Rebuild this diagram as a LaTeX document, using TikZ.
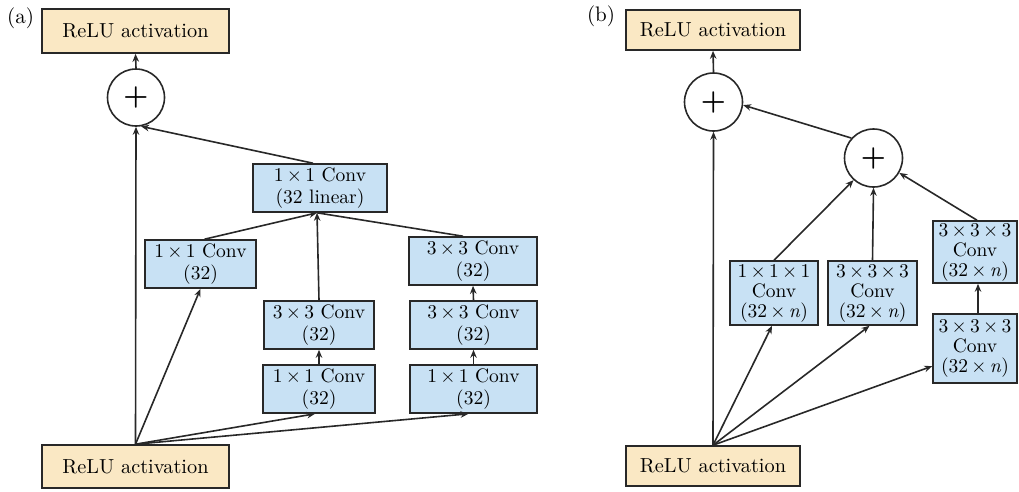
\documentclass[tikz,border=0pt]{standalone}
\usepackage{fontspec}
\setmainfont{lmroman10-regular}[Extension=.otf,BoldFont=lmroman10-bold,ItalicFont=lmroman10-italic]
\usetikzlibrary{arrows.meta,calc}
\definecolor{relu}{RGB}{250,232,196}
\definecolor{conv}{RGB}{200,225,244}
\definecolor{edgec}{RGB}{40,40,40}
\begin{document}
\begin{tikzpicture}[x=1pt,y=-1pt,
  box/.style={draw=edgec,line width=1.6pt,inner sep=0pt,align=center},
  relubox/.style={box,fill=relu,font=\fontsize{20.3}{24}\selectfont},
  convA/.style={box,fill=conv,font=\fontsize{19.5}{22}\selectfont},
  convB/.style={box,fill=conv,font=\fontsize{19.5}{20}\selectfont},
  sumnode/.style={circle,draw=edgec,line width=1.6pt,inner sep=0pt,minimum size=57pt,font=\fontsize{28}{28}\selectfont\bfseries},
  lbl/.style={font=\fontsize{21}{24}\selectfont},
  arr/.style={draw=edgec,line width=1.6pt,-{Stealth[length=8pt,width=6.5pt]}},
  ln/.style={draw=edgec,line width=1.6pt}]
\useasboundingbox (0,0) rectangle (1019,491);

% ---------------- (a) ----------------
\node[lbl] (la) at (20.5,18) {(a)};
\node[relubox,minimum width=187pt,minimum height=44pt] (rta) at (135.5,31) {ReLU activation};
\node[sumnode] (pa) at (136,97.5) {+};
\node[convA,minimum width=134pt,minimum height=48pt] (lin) at (320,188) {1\,×\,1 Conv\\(32 linear)};
\node[convA,minimum width=111pt,minimum height=48pt] (c1l) at (200.5,264) {1\,×\,1 Conv\\(32)};
\node[convA,minimum width=128pt,minimum height=48pt] (c3rt) at (473,261) {3\,×\,3 Conv\\(32)};
\node[convA,minimum width=110pt,minimum height=48pt] (c3m) at (319,325) {3\,×\,3 Conv\\(32)};
\node[convA,minimum width=127pt,minimum height=48pt] (c3rm) at (473.5,325) {3\,×\,3 Conv\\(32)};
\node[convA,minimum width=112pt,minimum height=48pt] (c1m) at (319,389) {1\,×\,1 Conv\\(32)};
\node[convA,minimum width=127pt,minimum height=48pt] (c1r) at (473.5,389) {1\,×\,1 Conv\\(32)};
\node[relubox,minimum width=187pt,minimum height=43pt] (rba) at (135.5,466.5) {ReLU activation};

\coordinate (apa) at (rba.north);
\path[arr] (pa.north) -- (rta.south);
\path[arr] (apa) -- (pa.south);
\path[arr] (apa) -- (c1l.south);
\path[arr] (apa) -- ($(c1m.south)+(-4,0)$);
\path[arr] (apa) -- ($(c1r.south)+(-5,0)$);
\path[arr] (c1m.north) -- (c3m.south);
\path[arr] (c1r.north) -- (c3rm.south);
\path[arr] (c3rm.north) -- (c3rt.south);
\coordinate (lins) at ($(lin.south)+(-3,0)$);
\path[arr] ($(c1l.north)+(4,0)$) -- (lins);
\path[arr] (c3m.north) -- (lins);
\path[ln] ($(c3rt.north)+(-10,0)$) -- (lins);
\path[arr] ($(lin.north)+(-7,0)$) -- (pa.-80);

% ---------------- (b) ----------------
\node[lbl] (lb) at (601,16) {(b)};
\node[relubox,minimum width=174pt,minimum height=40pt] (rtb) at (713,30) {ReLU activation};
\node[sumnode,minimum size=58pt] (p1) at (713.5,102) {+};
\node[sumnode,minimum size=58pt] (p2) at (873.5,158) {+};
\node[convB,minimum width=88pt,minimum height=64pt] (k1) at (774,293) {1\,×\,1\,×\,1\\Conv\\(32\,×\,\textit{n})};
\node[convB,minimum width=89pt,minimum height=64pt] (k2) at (872.5,293) {3\,×\,3\,×\,3\\Conv\\(32\,×\,\textit{n})};
\node[convB,minimum width=84pt,minimum height=62pt] (k3t) at (975,252) {3\,×\,3\,×\,3\\Conv\\(32\,×\,\textit{n})};
\node[convB,minimum width=84pt,minimum height=69pt] (k3b) at (975,348.5) {3\,×\,3\,×\,3\\Conv\\(32\,×\,\textit{n})};
\node[relubox,minimum width=174pt,minimum height=40pt] (rbb) at (713,466) {ReLU activation};

\coordinate (apb) at (rbb.north);
\path[arr] (p1.north) -- (rtb.south);
\path[arr] (p2.138) -- (p1.-6);
\path[arr] (apb) -- (p1.south);
\path[arr] (apb) -- ($(k1.south)+(-2,0)$);
\path[arr] (apb) -- ($(k2.south)+(-3,0)$);
\path[arr] (apb) -- ($(k3b.south west)!0.25!(k3b.north west)$);
\path[arr] (k1.north) -- (p2.-132);
\path[arr] (k2.north) -- (p2.south);
\path[arr] ($(k3t.north)+(2,0)$) -- (p2.-30);
\path[arr] ($(k3b.north)+(3,0)$) -- ($(k3t.south)+(3,0)$);
\end{tikzpicture}
\end{document}
